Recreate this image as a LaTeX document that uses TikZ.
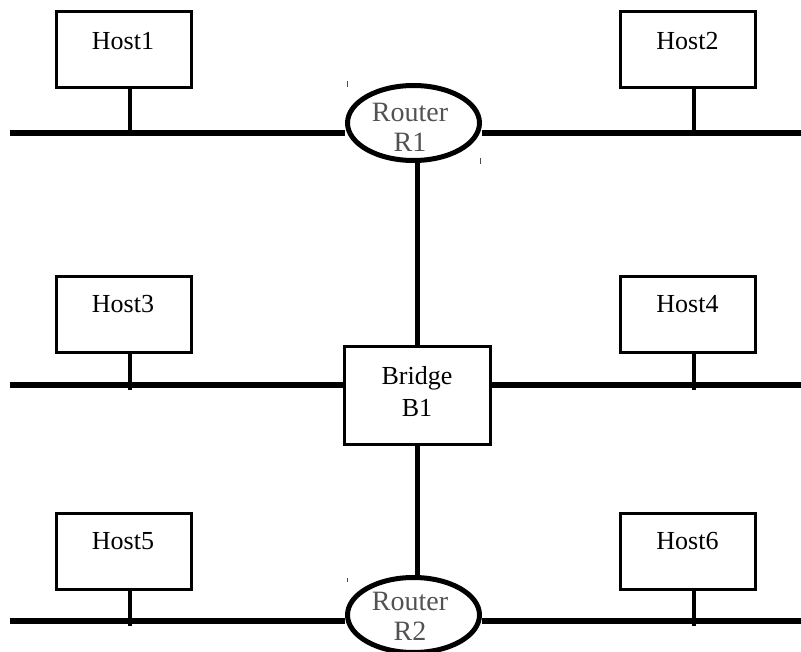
\documentclass[tikz,border=0pt]{standalone}
\usepackage{fontspec}
\setmainfont{Liberation Serif}
\usetikzlibrary{shapes.geometric}
\begin{document}
\begin{tikzpicture}[x=1pt,y=-1pt,
  hostbox/.style={draw, line width=3pt, minimum width=135pt, minimum height=76pt, inner sep=0pt},
  hosttext/.style={font=\fontsize{26}{30}\selectfont, inner sep=0pt},
  router/.style={ellipse, draw, line width=5pt, minimum width=132pt, minimum height=75pt, inner sep=0pt},
  routertext/.style={font=\fontsize{28}{30}\selectfont, text=black!68, inner sep=0pt, align=center},
  bridgebox/.style={draw, line width=3pt, minimum width=146pt, minimum height=98pt, inner sep=0pt},
  bridgetext/.style={font=\fontsize{26}{32}\selectfont, inner sep=0pt, align=center},
  bus/.style={line width=6pt},
  stem/.style={line width=4pt},
  trunk/.style={line width=5pt},
  tickmark/.style={line width=1pt, black!70}]
\useasboundingbox (0,0) rectangle (801,652);
\clip (0,0) rectangle (801,652);

% hosts
\node[hostbox] (h1) at (124,49.5) {};
\node[hosttext] (h1t) at (123,41) {Host1};
\node[hostbox] (h2) at (688,49.5) {};
\node[hosttext] (h2t) at (687.5,41) {Host2};
\node[hostbox] (h3) at (124,314.5) {};
\node[hosttext] (h3t) at (123,304) {Host3};
\node[hostbox] (h4) at (688,314.5) {};
\node[hosttext] (h4t) at (687.5,304) {Host4};
\node[hostbox] (h5) at (124,551) {};
\node[hosttext] (h5t) at (123,541) {Host5};
\node[hostbox] (h6) at (688,551) {};
\node[hosttext] (h6t) at (687.5,541) {Host6};

% routers and bridge
\node[router] (r1) at (413.5,123) {};
\node[routertext] (r1t) at (410,127.5) {Router\\R1};
\node[bridgebox] (b1) at (417.5,395.5) {};
\node[bridgetext] (b1t) at (417,392) {Bridge\\B1};
\node[router] (r2) at (413.5,615) {};
\node[routertext] (r2t) at (410,616) {Router\\R2};

% bus ends
\coordinate (l1) at (10,133);  \coordinate (e1) at (801,133);
\coordinate (l2) at (10,385);  \coordinate (e2) at (801,385);
\coordinate (l3) at (10,621);  \coordinate (e3) at (801,621);

% stem feet
\coordinate (s1) at (130,133); \coordinate (s2) at (694,133);
\coordinate (s3) at (130,390); \coordinate (s4) at (694,390);
\coordinate (s5) at (130,626); \coordinate (s6) at (694,626);

% buses
\draw[bus] (l1) -- (l1 -| r1.west);
\draw[bus] (e1 -| r1.east) -- (e1);
\draw[bus] (l2) -- (l2 -| b1.west);
\draw[bus] (e2 -| b1.east) -- (e2);
\draw[bus] (l3) -- (l3 -| r2.west);
\draw[bus] (e3 -| r2.east) -- (e3);

% host stems
\draw[stem] (h1.south -| s1) -- (s1);
\draw[stem] (h2.south -| s2) -- (s2);
\draw[stem] (h3.south -| s3) -- (s3);
\draw[stem] (h4.south -| s4) -- (s4);
\draw[stem] (h5.south -| s5) -- (s5);
\draw[stem] (h6.south -| s6) -- (s6);

% trunk
\draw[trunk] (r1.south -| b1.north) -- (b1.north);
\draw[trunk] (b1.south) -- (b1.south |- r2.north);

% stray marks
\draw[tickmark] (347,81) -- (347,87);
\draw[tickmark] (480,158) -- (480,164);
\draw[tickmark] (347,578) -- (347,582);
\end{tikzpicture}
\end{document}
